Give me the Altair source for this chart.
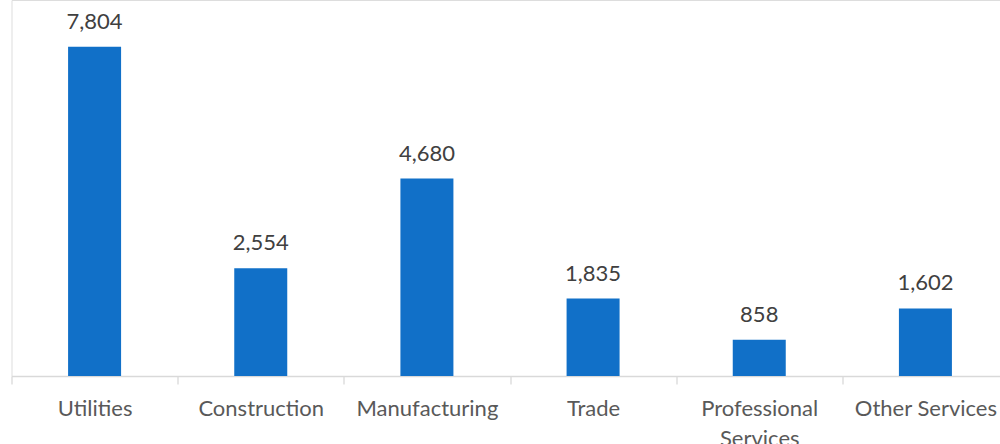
import altair as alt
import pandas as pd

categories = ["Utilities", "Construction", "Manufacturing", "Trade", "Professional Services", "Other Services"]
values = [7804, 2554, 4680, 1835, 858, 1602]

df = pd.DataFrame({"category": categories, "value": values})

FONT = "Lato"

x_enc = alt.X(
    "category:N",
    sort=categories,
    title=None,
    scale=alt.Scale(paddingInner=0, paddingOuter=0, range=[0, 997]),
    axis=alt.Axis(
        tickBand="extent",
        labelAngle=0,
        labelFont=FONT,
        labelFontSize=22,
        labelColor="#595959",
        labelBaseline="alphabetic",
        labelPadding=31,
        labelLineHeight=30,
        labelExpr="datum.label == 'Professional Services' ? ['Professional', 'Services'] : datum.label",
        domainColor="#d9d9d9",
        domainWidth=1.3,
        tickColor="#d9d9d9",
        tickWidth=1.3,
        tickSize=8,
        grid=False,
    ),
)
y_enc = alt.Y(
    "value:Q",
    scale=alt.Scale(domain=[0, 8910], nice=False, zero=True),
    axis=None,
)

bars = alt.Chart(df).mark_bar(size=53, color="#1170C8").encode(x=x_enc, y=y_enc)

labels = alt.Chart(df).mark_text(
    font=FONT, fontSize=22, color="#404040", baseline="alphabetic", dy=-18, align="center"
).encode(
    x=alt.X("category:N", sort=categories),
    y=alt.Y("value:Q"),
    text=alt.Text("value:Q", format=","),
)

chart = (
    alt.layer(bars, labels)
    .properties(
        width=988.5,
        height=376,
        autosize=alt.AutoSizeParams(type="none"),
        padding={"left": 11.5, "right": 0, "top": 0, "bottom": 68},
    )
    .configure_view(stroke="transparent", strokeWidth=0)
    .configure(background="white")
)

chart.save("out.html", embed_options={"renderer": "svg", "actions": False})
